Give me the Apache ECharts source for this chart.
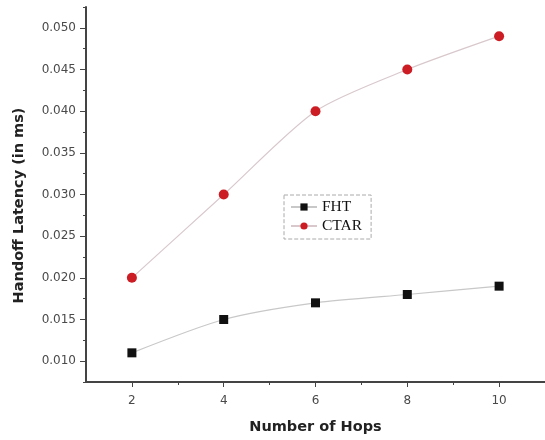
<!DOCTYPE html>
<html>
<head>
<meta charset="utf-8">
<script src="https://cdn.jsdelivr.net/npm/echarts@6/dist/echarts.min.js"></script>
<style>html,body{margin:0;padding:0;background:#fff}#c{width:545px;height:440px}</style>
</head>
<body>
<div id="c"></div>
<script>
const hops = [2, 4, 6, 8, 10];
const fht = [0.011, 0.015, 0.017, 0.018, 0.019];
const ctar = [0.020, 0.030, 0.040, 0.045, 0.049];
const yMajorTicks = [0.010, 0.015, 0.020, 0.025, 0.030, 0.035, 0.040, 0.045, 0.050];
const yMinorTicks = [0.0075, 0.0125, 0.0175, 0.0225, 0.0275, 0.0325, 0.0375, 0.0425, 0.0475, 0.0525];
const xMajorTicks = [2, 4, 6, 8, 10];
const xMinorTicks = [3, 5, 7, 9];

const chart = echarts.init(document.getElementById('c'), null, {renderer: 'canvas'});
const axisColor = '#444';
const labelFont = {color: '#4a4a4a', fontFamily: 'DejaVu Sans, sans-serif', fontSize: 12};
const nameFont = {fontFamily: 'DejaVu Sans, sans-serif', fontWeight: 'bold', fontSize: 14.5, color: '#222'};
const pair = (xs, ys) => xs.map((x, i) => [x, ys[i]]);

chart.setOption({
  backgroundColor: '#fff',
  animation: false,
  grid: {left: 86, right: -6, top: 7, bottom: 56, containLabel: false},
  legend: {
    orient: 'vertical', left: 284, top: 195,
    borderColor: '#aaa', borderWidth: 1, borderType: 'dashed',
    padding: [4, 9, 5, 6], itemGap: 3, itemWidth: 26, itemHeight: 9,
    textStyle: {fontFamily: 'Liberation Serif, Times New Roman, serif', fontSize: 15.5, color: '#111'},
    data: ['FHT', 'CTAR']
  },
  xAxis: [{
    type: 'value', min: 1, max: 11,
    name: 'Number of Hops', nameLocation: 'middle', nameGap: 38,
    nameTextStyle: nameFont,
    axisLine: {show: true, lineStyle: {color: axisColor, width: 2}},
    axisTick: {show: true, length: 5, lineStyle: {color: axisColor}, customValues: xMajorTicks},
    axisLabel: Object.assign({margin: 13, customValues: xMajorTicks}, labelFont),
    splitLine: {show: false}
  }, {
    type: 'value', min: 1, max: 11, position: 'bottom',
    axisLine: {show: false},
    axisTick: {show: true, length: 3, lineStyle: {color: axisColor}, customValues: xMinorTicks},
    axisLabel: {show: false},
    splitLine: {show: false}
  }],
  yAxis: [{
    type: 'value', min: 0.0075, max: 0.0525,
    name: 'Handoff Latency (in ms)', nameLocation: 'middle', nameGap: 59,
    nameTextStyle: Object.assign({padding: [0, 22, 0, 0]}, nameFont),
    axisLine: {show: true, lineStyle: {color: axisColor, width: 2}},
    axisTick: {show: true, length: 6, lineStyle: {color: axisColor}, customValues: yMajorTicks},
    axisLabel: Object.assign({margin: 10, customValues: yMajorTicks, formatter: v => v.toFixed(3)}, labelFont),
    splitLine: {show: false}
  }, {
    type: 'value', min: 0.0075, max: 0.0525, position: 'left',
    axisLine: {show: false},
    axisTick: {show: true, length: 3, lineStyle: {color: axisColor}, customValues: yMinorTicks},
    axisLabel: {show: false},
    splitLine: {show: false}
  }],
  series: [{
    name: 'FHT', type: 'line', smooth: 0.25,
    data: pair(hops, fht),
    symbol: 'rect', symbolSize: 9,
    itemStyle: {color: '#111'},
    lineStyle: {color: '#c8c8c8', width: 1.2}
  }, {
    name: 'CTAR', type: 'line', smooth: 0.25,
    data: pair(hops, ctar),
    symbol: 'circle', symbolSize: 10,
    itemStyle: {color: '#cc1c24'},
    lineStyle: {color: '#d8c8cc', width: 1.2}
  }]
});
</script>
</body>
</html>
